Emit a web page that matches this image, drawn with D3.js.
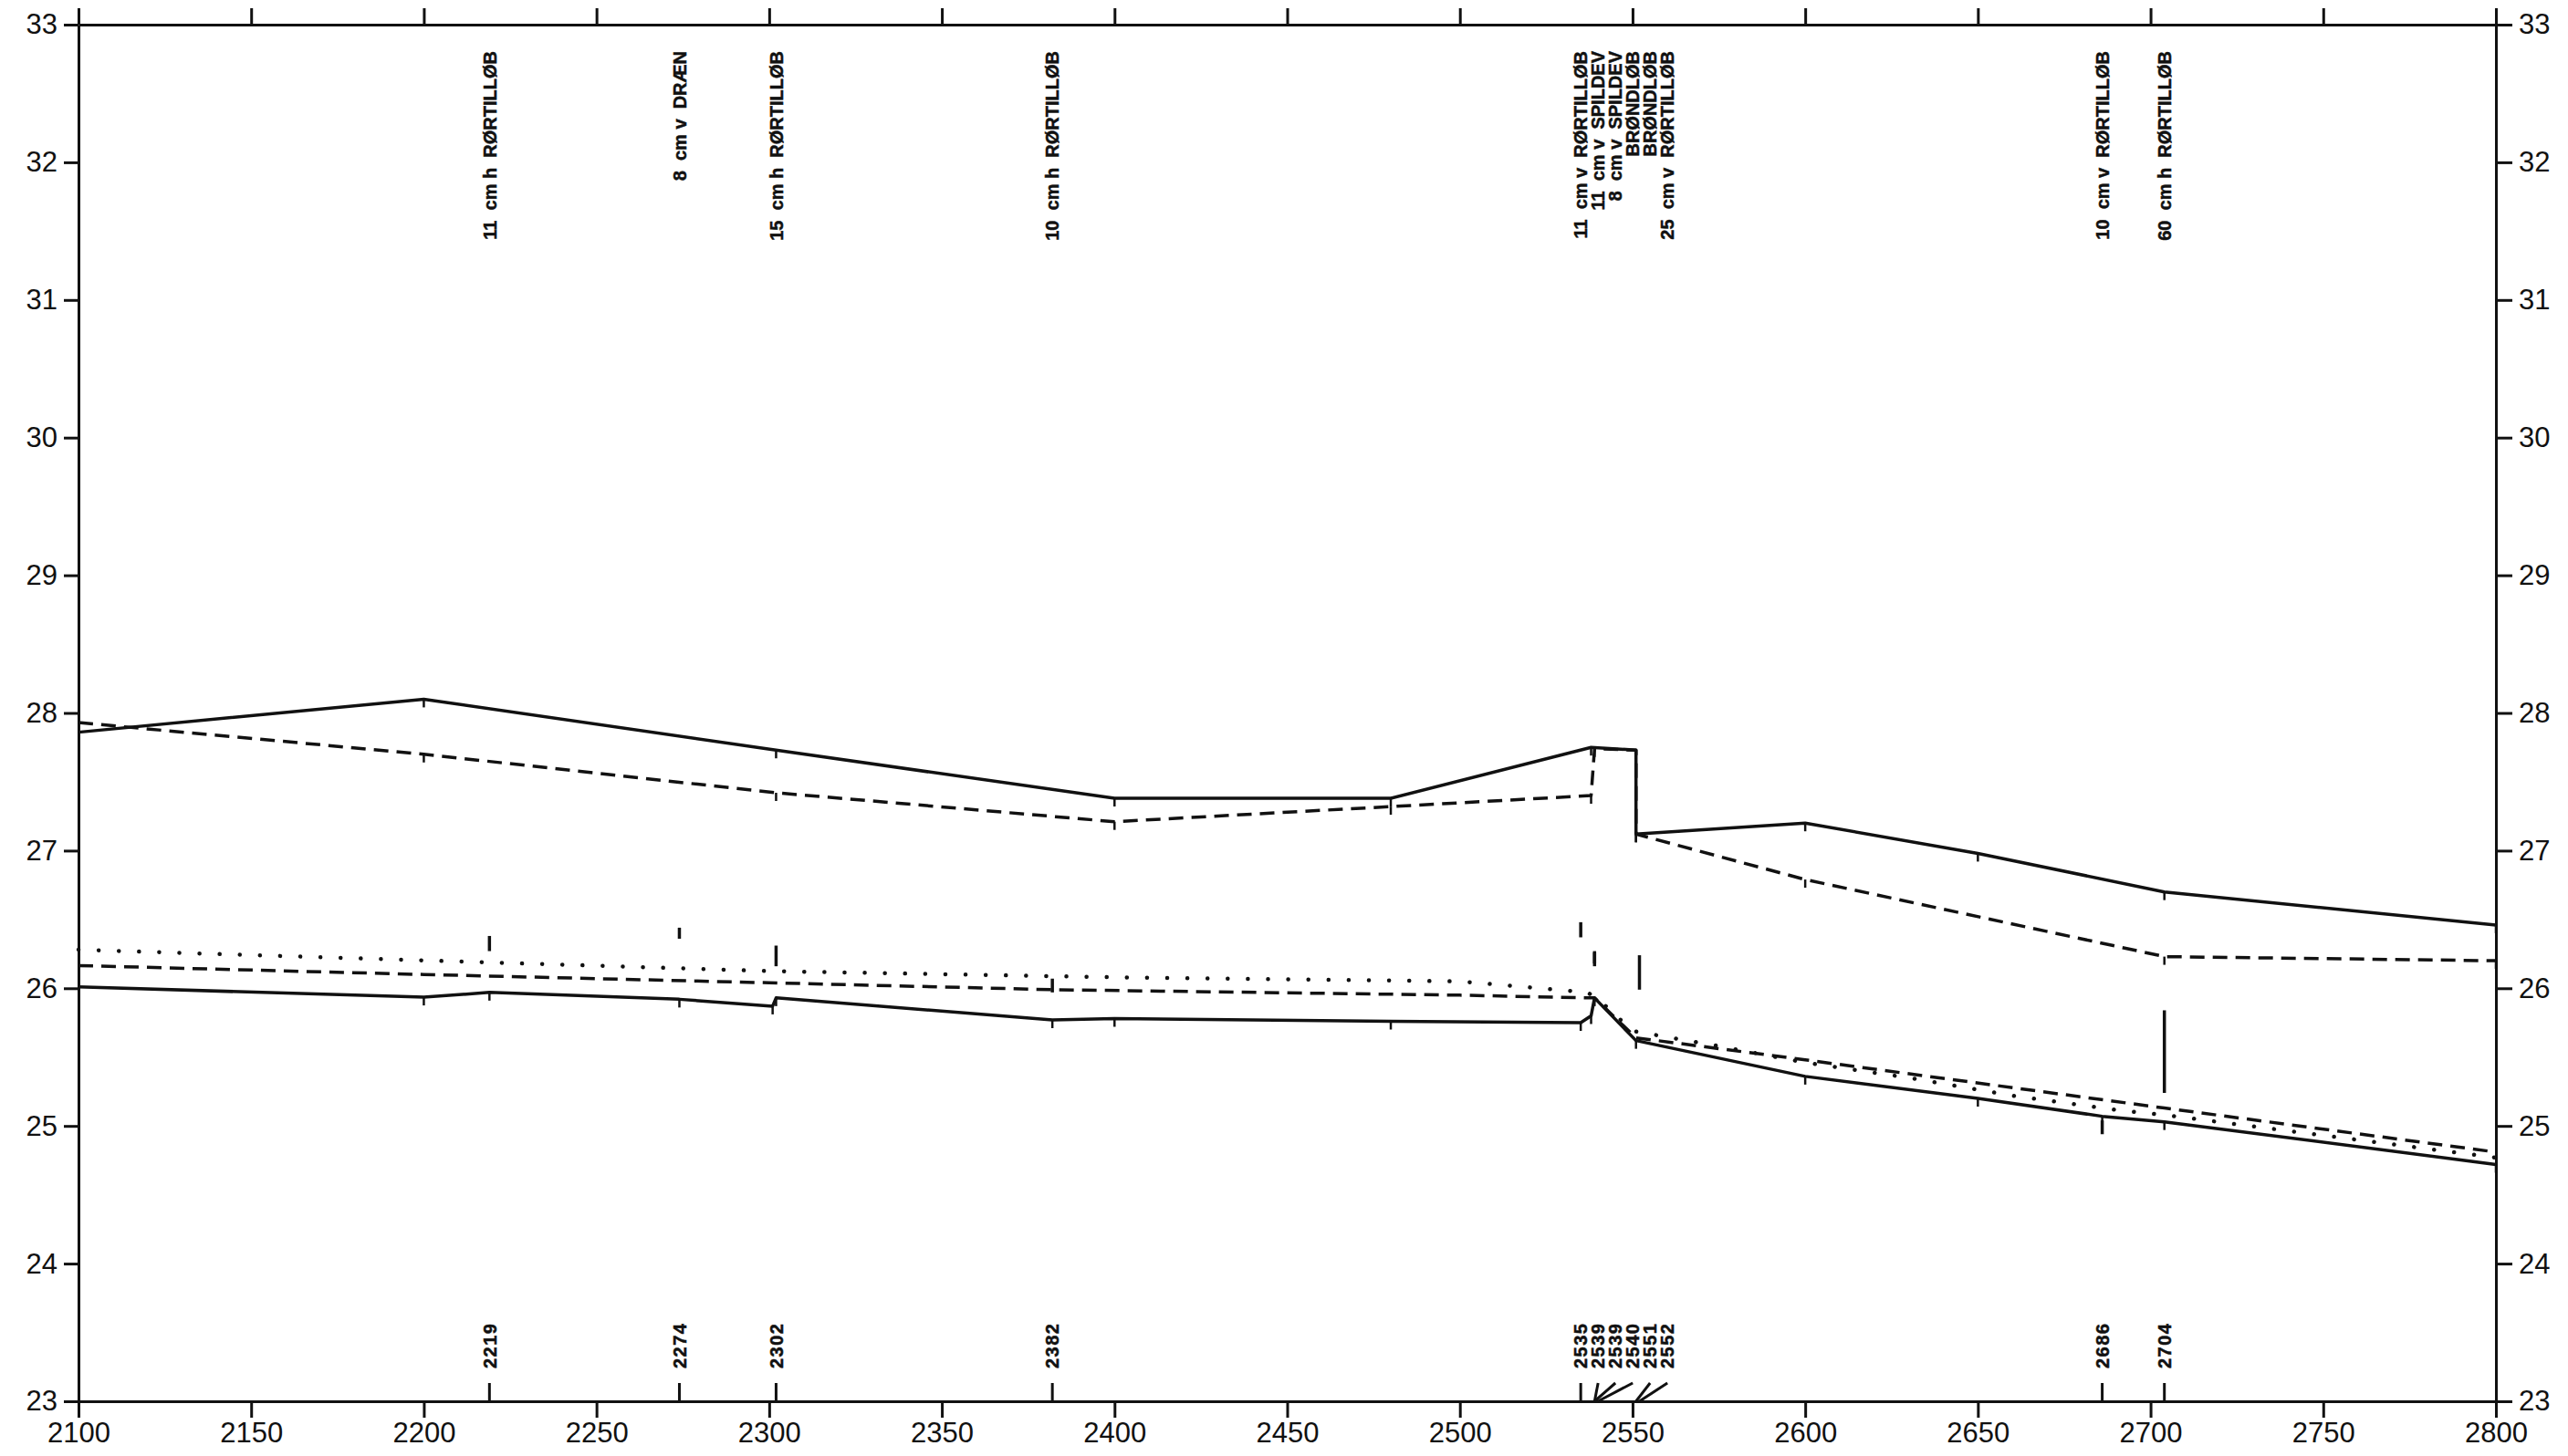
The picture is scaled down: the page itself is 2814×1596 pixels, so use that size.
<!DOCTYPE html>
<html><head><meta charset="utf-8">
<script src="https://cdn.jsdelivr.net/npm/d3@7"></script>
<style>
html,body{margin:0;padding:0;background:#fff;}
svg{display:block;background:#fff;}
.lbl{font-family:"Liberation Sans",Arial,sans-serif;font-weight:bold;font-size:20px;white-space:pre;fill:#111;stroke:#111;stroke-width:0.5;}
.axis text{font-family:"Liberation Sans Narrow","Liberation Sans",Arial,sans-serif;font-size:31px;fill:#111;}
.axis path,.axis line{stroke:#111;stroke-width:3;}
</style></head><body>
<svg id="c" width="2814" height="1596"></svg>
<script>
// ---------- data ----------
const xTicks = [2100,2150,2200,2250,2300,2350,2400,2450,2500,2550,2600,2650,2700,2750,2800];
const yTicks = [23,24,25,26,27,28,29,30,31,32,33];

// upper solid line
const terrainX = [2100,2200,2302,2400,2480,2538,2551,2551,2600,2650,2704,2800];
const terrainY = [27.86,28.10,27.73,27.38,27.38,27.75,27.73,27.12,27.20,26.98,26.70,26.46];
// upper dashed line
const topDashX = [2100,2200,2302,2400,2480,2538,2539,2551,2551,2600,2704,2800];
const topDashY = [27.93,27.70,27.42,27.21,27.32,27.40,27.74,27.73,27.12,26.79,26.23,26.20];
// lower dotted line
const dottedX = [2100,2300,2400,2500,2537,2541,2550,2575,2600,2630,2660,2692,2704,2800];
const dottedY = [26.28,26.125,26.08,26.05,25.97,25.90,25.69,25.58,25.46,25.35,25.22,25.11,25.08,24.77];
// lower dashed line
const botDashX = [2100,2200,2300,2382,2500,2537,2539,2551,2600,2704,2800];
const botDashY = [26.165,26.10,26.04,25.99,25.95,25.93,25.93,25.64,25.48,25.13,24.81];
// lower solid line
const botSolidX = [2100,2200,2219,2274,2301,2302,2382,2400,2480,2535,2538,2539,2551,2600,2650,2686,2704,2800];
const botSolidY = [26.01,25.935,25.97,25.92,25.87,25.93,25.77,25.78,25.76,25.75,25.80,25.93,25.62,25.36,25.20,25.07,25.03,24.72];

// pipe connections: station, bottom level, diameter (cm)
const connX = [2219,2274,2302,2382,2535,2539,2539,2552,2686,2704];
const connBottom = [26.27,26.36,26.16,25.97,26.37,26.16,26.18,25.99,24.94,25.24];
const connDiam = [11,8,15,10,11,11,8,25,10,60];

// station annotations
const stationX = [2219,2274,2302,2382,2535,2539,2539,2540,2551,2552,2686,2704];
const stationName = ["2219","2274","2302","2382","2535","2539","2539","2540","2551","2552","2686","2704"];
const labelSize = ["11","8","15","10","11","11","8","","","25","10","60"];
const labelSide = ["h","v","h","h","v","v","v","","","v","v","h"];
const labelType = ["RØRTILLØB","DRÆN","RØRTILLØB","RØRTILLØB","RØRTILLØB","SPILDEV","SPILDEV","BRØNDLØB","BRØNDLØB","RØRTILLØB","RØRTILLØB","RØRTILLØB"];

// ---------- layout ----------
const svg = d3.select("#c");
const x = d3.scaleLinear().domain([2100,2800]).range([86,2735]);
const y = d3.scaleLinear().domain([23,33]).range([1536,27]);
const ink = "#111";

// axes
svg.append("g").attr("class","axis").attr("transform",`translate(0,${y(23)})`)
  .call(d3.axisBottom(x).tickValues(xTicks).tickSize(18).tickPadding(5).tickSizeOuter(0).tickFormat(d3.format("d")));
svg.append("g").attr("class","axis").attr("transform",`translate(0,${y(33)})`)
  .call(d3.axisTop(x).tickValues(xTicks).tickSize(18).tickSizeOuter(0).tickFormat(""));
svg.append("g").attr("class","axis").attr("transform",`translate(${x(2100)},0)`)
  .call(d3.axisLeft(y).tickValues(yTicks).tickSize(16).tickPadding(7).tickSizeOuter(0).tickFormat(d3.format("d")));
svg.append("g").attr("class","axis").attr("transform",`translate(${x(2800)},0)`)
  .call(d3.axisRight(y).tickValues(yTicks).tickSize(18).tickPadding(7).tickSizeOuter(0).tickFormat(d3.format("d")));

// lines
const line = d3.line().x(d=>x(d[0])).y(d=>y(d[1]));
const series = [
  {xs:terrainX, ys:terrainY, dash:null, w:3.5, ticks:true},
  {xs:topDashX, ys:topDashY, dash:"16,9", w:3.5, ticks:true},
  {xs:dottedX, ys:dottedY, dash:"0.1,22", w:4.5, ticks:false, cap:"round"},
  {xs:botDashX, ys:botDashY, dash:"16,9", w:3.5, ticks:false},
  {xs:botSolidX, ys:botSolidY, dash:null, w:3.5, ticks:true}
];
series.forEach(s=>{
  const pts = d3.zip(s.xs, s.ys);
  svg.append("path").datum(pts).attr("d",line)
    .attr("fill","none").attr("stroke",ink).attr("stroke-width",s.w)
    .attr("stroke-linejoin","round")
    .attr("stroke-linecap",s.cap||"butt")
    .attr("stroke-dasharray",s.dash);
  if(s.ticks){
    svg.append("g").selectAll("line").data(pts.slice(1)).join("line")
      .attr("x1",d=>x(d[0])).attr("x2",d=>x(d[0]))
      .attr("y1",d=>y(d[1])).attr("y2",d=>y(d[1])+9)
      .attr("stroke",ink).attr("stroke-width",2.5);
  }
});

// pipe connections (vertical bars = diameter)
svg.append("g").selectAll("line").data(d3.range(connX.length)).join("line")
  .attr("x1",i=>x(connX[i])).attr("x2",i=>x(connX[i]))
  .attr("y1",i=>y(connBottom[i])).attr("y2",i=>y(connBottom[i]+connDiam[i]/100))
  .attr("stroke",ink).attr("stroke-width",3.5);

// spread label positions to avoid overlap
const gap = 19;
const labelPos = [];
stationX.forEach((s,i)=>{
  let p = x(s);
  if(i>0 && p < labelPos[i-1]+gap) p = labelPos[i-1]+gap;
  labelPos.push(p);
});

// top annotations
const topY = y(33)+29;
svg.append("g").selectAll("text").data(d3.range(stationX.length)).join("text")
  .attr("class","lbl")
  .attr("transform",i=>`translate(${labelPos[i]},${topY}) rotate(-90)`)
  .attr("text-anchor","end").attr("dy","0.36em")
  .text(i=> labelSize[i] ? `${labelSize[i]}  cm ${labelSide[i]}  ${labelType[i]}` : labelType[i]);

// bottom station numbers and leaders
const baseY = y(23);
svg.append("g").selectAll("text").data(d3.range(stationX.length)).join("text")
  .attr("class","lbl")
  .attr("transform",i=>`translate(${labelPos[i]},${baseY-36}) rotate(-90)`)
  .attr("text-anchor","start").attr("dy","0.36em")
  .attr("letter-spacing","1.5")
  .text(i=>stationName[i]);
svg.append("g").selectAll("line").data(d3.range(stationX.length)).join("line")
  .attr("x1",i=>labelPos[i]).attr("y1",baseY-20)
  .attr("x2",i=>x(stationX[i])).attr("y2",baseY)
  .attr("stroke",ink).attr("stroke-width",3);
</script></body></html>
